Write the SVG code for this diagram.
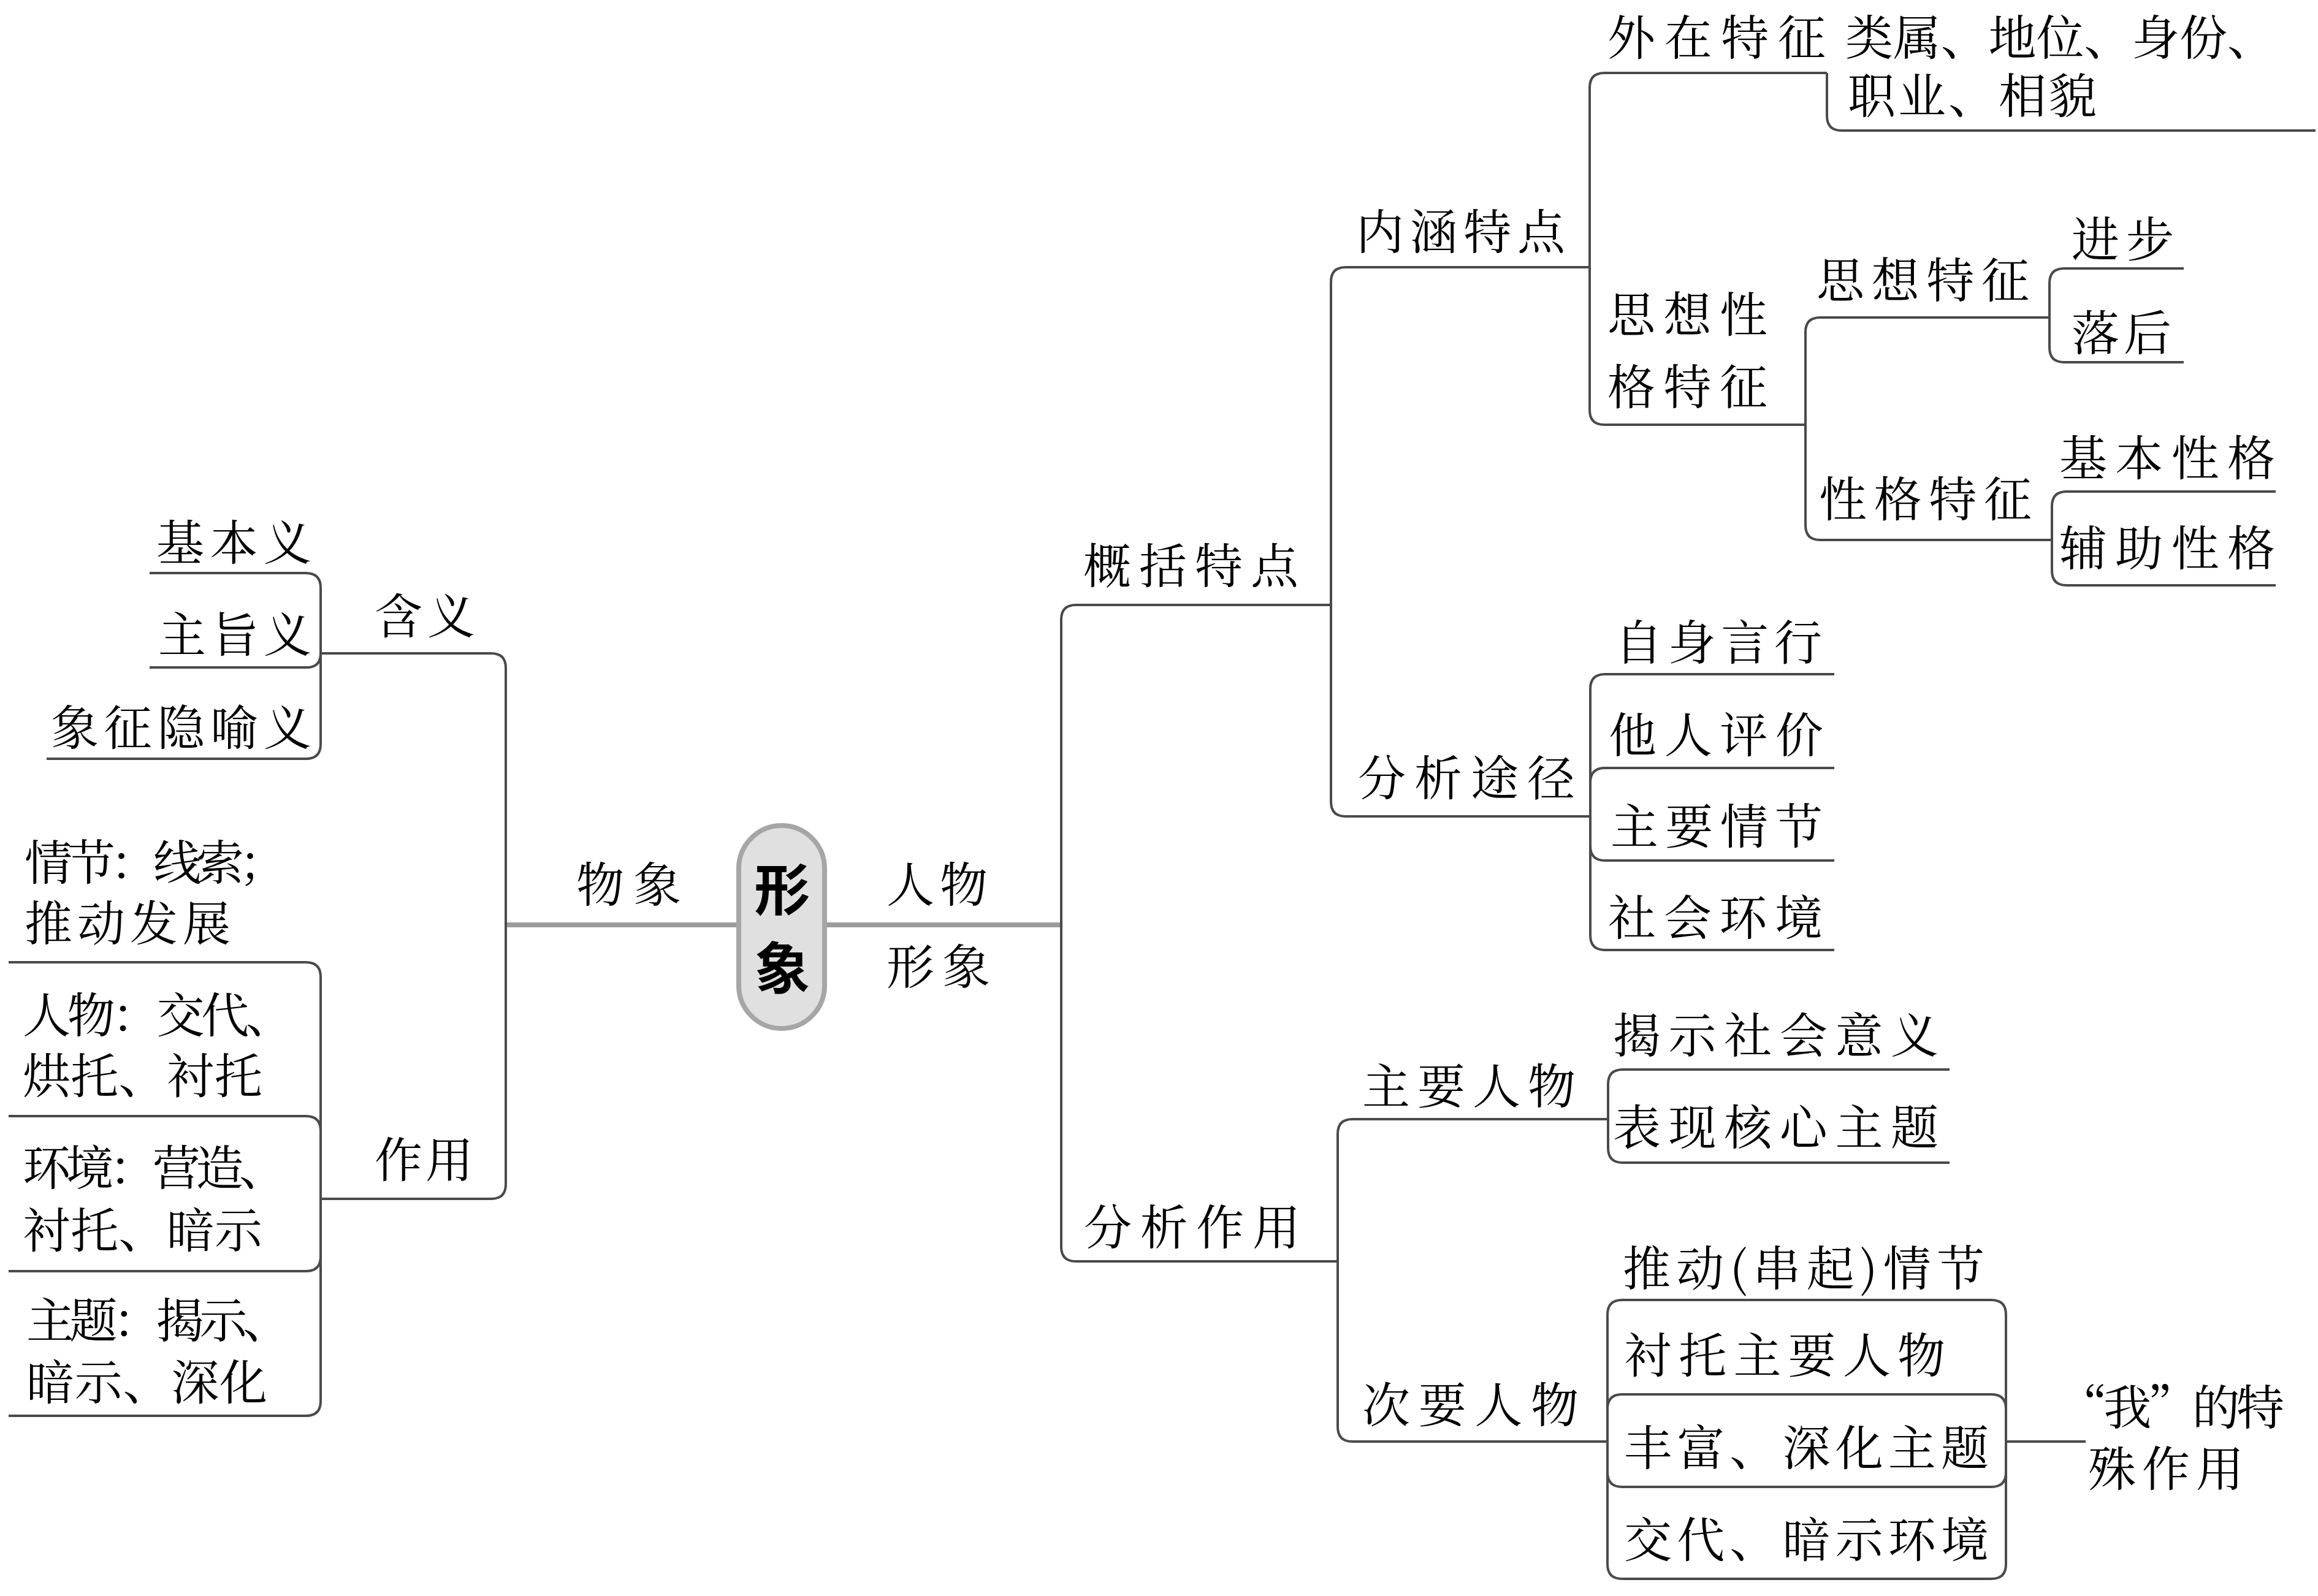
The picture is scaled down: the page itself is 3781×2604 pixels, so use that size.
<svg xmlns="http://www.w3.org/2000/svg" width="3781" height="2604" viewBox="0 0 3781 2604">
<style>
.t{font-family:"Noto Serif CJK SC","Noto Sans CJK SC","Noto Sans CJK JP",serif;font-size:78px;fill:#000;}
.c{fill:none;stroke:#4a4a4a;stroke-width:4;stroke-linecap:butt;stroke-linejoin:round;}
.m{fill:none;stroke:#9b9b9b;stroke-width:8;}
.root{fill:#e0e0e0;stroke:#a6a6a6;stroke-width:8;}
.rt{font-family:"Noto Sans CJK SC","Noto Sans CJK JP",sans-serif;font-size:91px;font-weight:bold;fill:#000;text-anchor:middle;}
</style>
<rect width="3781" height="2604" fill="#fff"/>
<g id="connectors">
<path class="m" d="M825 1509 H1731"/>
<path class="c" d="M825 1509 V1090 Q825 1066 801 1066 H523"/>
<path class="c" d="M825 1509 V1932 Q825 1956 801 1956 H523"/>
<path class="c" d="M523 1066 V959 Q523 935 499 935 H244"/>
<path class="c" d="M523 1066 Q523 1089 500 1089 H244"/>
<path class="c" d="M523 1066 V1214 Q523 1238 499 1238 H76"/>
<path class="c" d="M523 1956 V1594 Q523 1570 499 1570 H14"/>
<path class="c" d="M523 1956 V1845 Q523 1821 499 1821 H14"/>
<path class="c" d="M523 1956 V2050 Q523 2074 499 2074 H14"/>
<path class="c" d="M523 1956 V2286 Q523 2310 499 2310 H14"/>
<path class="c" d="M1731 1509 V1011 Q1731 987 1755 987 H2171"/>
<path class="c" d="M1731 1509 V2034 Q1731 2058 1755 2058 H2182"/>
<path class="c" d="M2171 987 V460 Q2171 436 2195 436 H2593"/>
<path class="c" d="M2171 987 V1308 Q2171 1332 2195 1332 H2594"/>
<path class="c" d="M2593 436 V143 Q2593 119 2617 119 H2980"/>
<path class="c" d="M2593 436 V669 Q2593 693 2617 693 H2945"/>
<path class="c" d="M2980 119 V189 Q2980 213 3004 213 H3777"/>
<path class="c" d="M2945 693 V542 Q2945 518 2969 518 H3343"/>
<path class="c" d="M2945 693 V857 Q2945 881 2969 881 H3347"/>
<path class="c" d="M3343 518 V462 Q3343 438 3367 438 H3562"/>
<path class="c" d="M3343 518 V567 Q3343 591 3367 591 H3562"/>
<path class="c" d="M3347 881 V826 Q3347 802 3371 802 H3712"/>
<path class="c" d="M3347 881 V931 Q3347 955 3371 955 H3712"/>
<path class="c" d="M2594 1332 V1124 Q2594 1100 2618 1100 H2992"/>
<path class="c" d="M2594 1332 V1277 Q2594 1253 2618 1253 H2992"/>
<path class="c" d="M2594 1332 V1380 Q2594 1404 2618 1404 H2992"/>
<path class="c" d="M2594 1332 V1526 Q2594 1550 2618 1550 H2992"/>
<path class="c" d="M2182 2058 V1850 Q2182 1826 2206 1826 H2623"/>
<path class="c" d="M2182 2058 V2328 Q2182 2352 2206 2352 H2622"/>
<path class="c" d="M2623 1826 V1769 Q2623 1745 2647 1745 H3180"/>
<path class="c" d="M2623 1826 V1873 Q2623 1897 2647 1897 H3180"/>
<path class="c" d="M2622 2352 V2145 Q2622 2121 2646 2121 H3248 Q3272 2121 3272 2145 V2352"/>
<path class="c" d="M2622 2352 V2299 Q2622 2275 2646 2275 H3248 Q3272 2275 3272 2299 V2352"/>
<path class="c" d="M2622 2352 V2402 Q2622 2426 2646 2426 H3248 Q3272 2426 3272 2402 V2352"/>
<path class="c" d="M2622 2352 V2552 Q2622 2576 2646 2576 H3248 Q3272 2576 3272 2552 V2352"/>
<path class="c" d="M3272 2352 H3402"/>
</g>
<g id="root">
<rect class="root" x="1205" y="1347" width="140" height="331" rx="70" ry="70"/>
<text class="rt"><tspan x="1276" y="1485">形</tspan><tspan x="1276" y="1613">象</tspan></text>
</g>
<g id="n-wuxiang"><text class="t" x="940" y="1472" textLength="171" lengthAdjust="spacing">物象</text></g>
<g id="n-hanyi"><text class="t" x="611" y="1034" textLength="164" lengthAdjust="spacing">含义</text></g>
<g id="n-jibenyi"><text class="t" x="255" y="914" textLength="253" lengthAdjust="spacing">基本义</text></g>
<g id="n-zhuzhiyi"><text class="t" x="258" y="1064" textLength="250" lengthAdjust="spacing">主旨义</text></g>
<g id="n-xiangzheng"><text class="t" x="83" y="1216" textLength="425" lengthAdjust="spacing">象征隐喻义</text></g>
<g id="n-zuoyong"><text class="t" x="611" y="1921" textLength="161" lengthAdjust="spacing">作用</text></g>
<g id="n-qingjie"><text class="t"><tspan x="40" y="1436" textLength="428" lengthAdjust="spacing">情节：线索；</tspan><tspan x="40" y="1535" textLength="336" lengthAdjust="spacing">推动发展</tspan></text></g>
<g id="n-renwu-l"><text class="t"><tspan x="37" y="1685" textLength="442" lengthAdjust="spacing">人物：交代、</tspan><tspan x="37" y="1784" textLength="391" lengthAdjust="spacing">烘托、衬托</tspan></text></g>
<g id="n-huanjing"><text class="t"><tspan x="37" y="1934" textLength="431" lengthAdjust="spacing">环境：营造、</tspan><tspan x="37" y="2036" textLength="391" lengthAdjust="spacing">衬托、暗示</tspan></text></g>
<g id="n-zhuti"><text class="t"><tspan x="43" y="2183" textLength="431" lengthAdjust="spacing">主题：揭示、</tspan><tspan x="43" y="2284" textLength="393" lengthAdjust="spacing">暗示、深化</tspan></text></g>
<g id="n-renwuxingxiang"><text class="t"><tspan x="1446" y="1472" textLength="165" lengthAdjust="spacing">人物</tspan><tspan x="1446" y="1606" textLength="169" lengthAdjust="spacing">形象</tspan></text></g>
<g id="n-gaikuo"><text class="t" x="1767" y="952" textLength="351" lengthAdjust="spacing">概括特点</text></g>
<g id="n-fenxizuoyong"><text class="t" x="1768" y="2031" textLength="353" lengthAdjust="spacing">分析作用</text></g>
<g id="n-neihan"><text class="t" x="2212" y="407" textLength="341" lengthAdjust="spacing">内涵特点</text></g>
<g id="n-fenxitujing"><text class="t" x="2215" y="1298" textLength="354" lengthAdjust="spacing">分析途径</text></g>
<g id="n-waizai"><text class="t" x="2622" y="90" textLength="356" lengthAdjust="spacing">外在特征</text></g>
<g id="n-leishu"><text class="t"><tspan x="3010" y="90" textLength="701" lengthAdjust="spacing">类属、地位、身份、</tspan><tspan x="3014" y="185" textLength="406" lengthAdjust="spacing">职业、相貌</tspan></text></g>
<g id="n-sixiangxingge"><text class="t"><tspan x="2622" y="542" textLength="261" lengthAdjust="spacing">思想性</tspan><tspan x="2622" y="660" textLength="261" lengthAdjust="spacing">格特征</tspan></text></g>
<g id="n-sixiang"><text class="t" x="2963" y="486" textLength="347" lengthAdjust="spacing">思想特征</text></g>
<g id="n-jinbu"><text class="t" x="3379" y="419" textLength="167" lengthAdjust="spacing">进步</text></g>
<g id="n-luohou"><text class="t" x="3379" y="572" textLength="163" lengthAdjust="spacing">落后</text></g>
<g id="n-xingge"><text class="t" x="2967" y="843" textLength="347" lengthAdjust="spacing">性格特征</text></g>
<g id="n-jibenxingge"><text class="t" x="3359" y="776" textLength="352" lengthAdjust="spacing">基本性格</text></g>
<g id="n-fuzhuxingge"><text class="t" x="3359" y="923" textLength="352" lengthAdjust="spacing">辅助性格</text></g>
<g id="n-zishen"><text class="t" x="2634" y="1077" textLength="338" lengthAdjust="spacing">自身言行</text></g>
<g id="n-taren"><text class="t" x="2624" y="1228" textLength="350" lengthAdjust="spacing">他人评价</text></g>
<g id="n-zhuyaoqingjie"><text class="t" x="2627" y="1377" textLength="346" lengthAdjust="spacing">主要情节</text></g>
<g id="n-shehui"><text class="t" x="2623" y="1526" textLength="350" lengthAdjust="spacing">社会环境</text></g>
<g id="n-zhuyaorenwu"><text class="t" x="2222" y="1801" textLength="348" lengthAdjust="spacing">主要人物</text></g>
<g id="n-jieshi"><text class="t" x="2631" y="1718" textLength="531" lengthAdjust="spacing">揭示社会意义</text></g>
<g id="n-biaoxian"><text class="t" x="2631" y="1868" textLength="531" lengthAdjust="spacing">表现核心主题</text></g>
<g id="n-ciyaorenwu"><text class="t" x="2222" y="2321" textLength="353" lengthAdjust="spacing">次要人物</text></g>
<g id="n-tuidong"><text class="t" x="2647" y="2098" textLength="590" lengthAdjust="spacing">推动(串起)情节</text></g>
<g id="n-chentuo"><text class="t" x="2649" y="2240" textLength="524" lengthAdjust="spacing">衬托主要人物</text></g>
<g id="n-fengfu"><text class="t" x="2649" y="2391" textLength="595" lengthAdjust="spacing">丰富、深化主题</text></g>
<g id="n-jiaodai"><text class="t" x="2649" y="2541" textLength="595" lengthAdjust="spacing">交代、暗示环境</text></g>
<g id="n-wo"><text class="t"><tspan x="3359" y="2325" textLength="367" lengthAdjust="spacing">“我”的特</tspan><tspan x="3406" y="2425" textLength="254" lengthAdjust="spacing">殊作用</tspan></text></g>
</svg>
